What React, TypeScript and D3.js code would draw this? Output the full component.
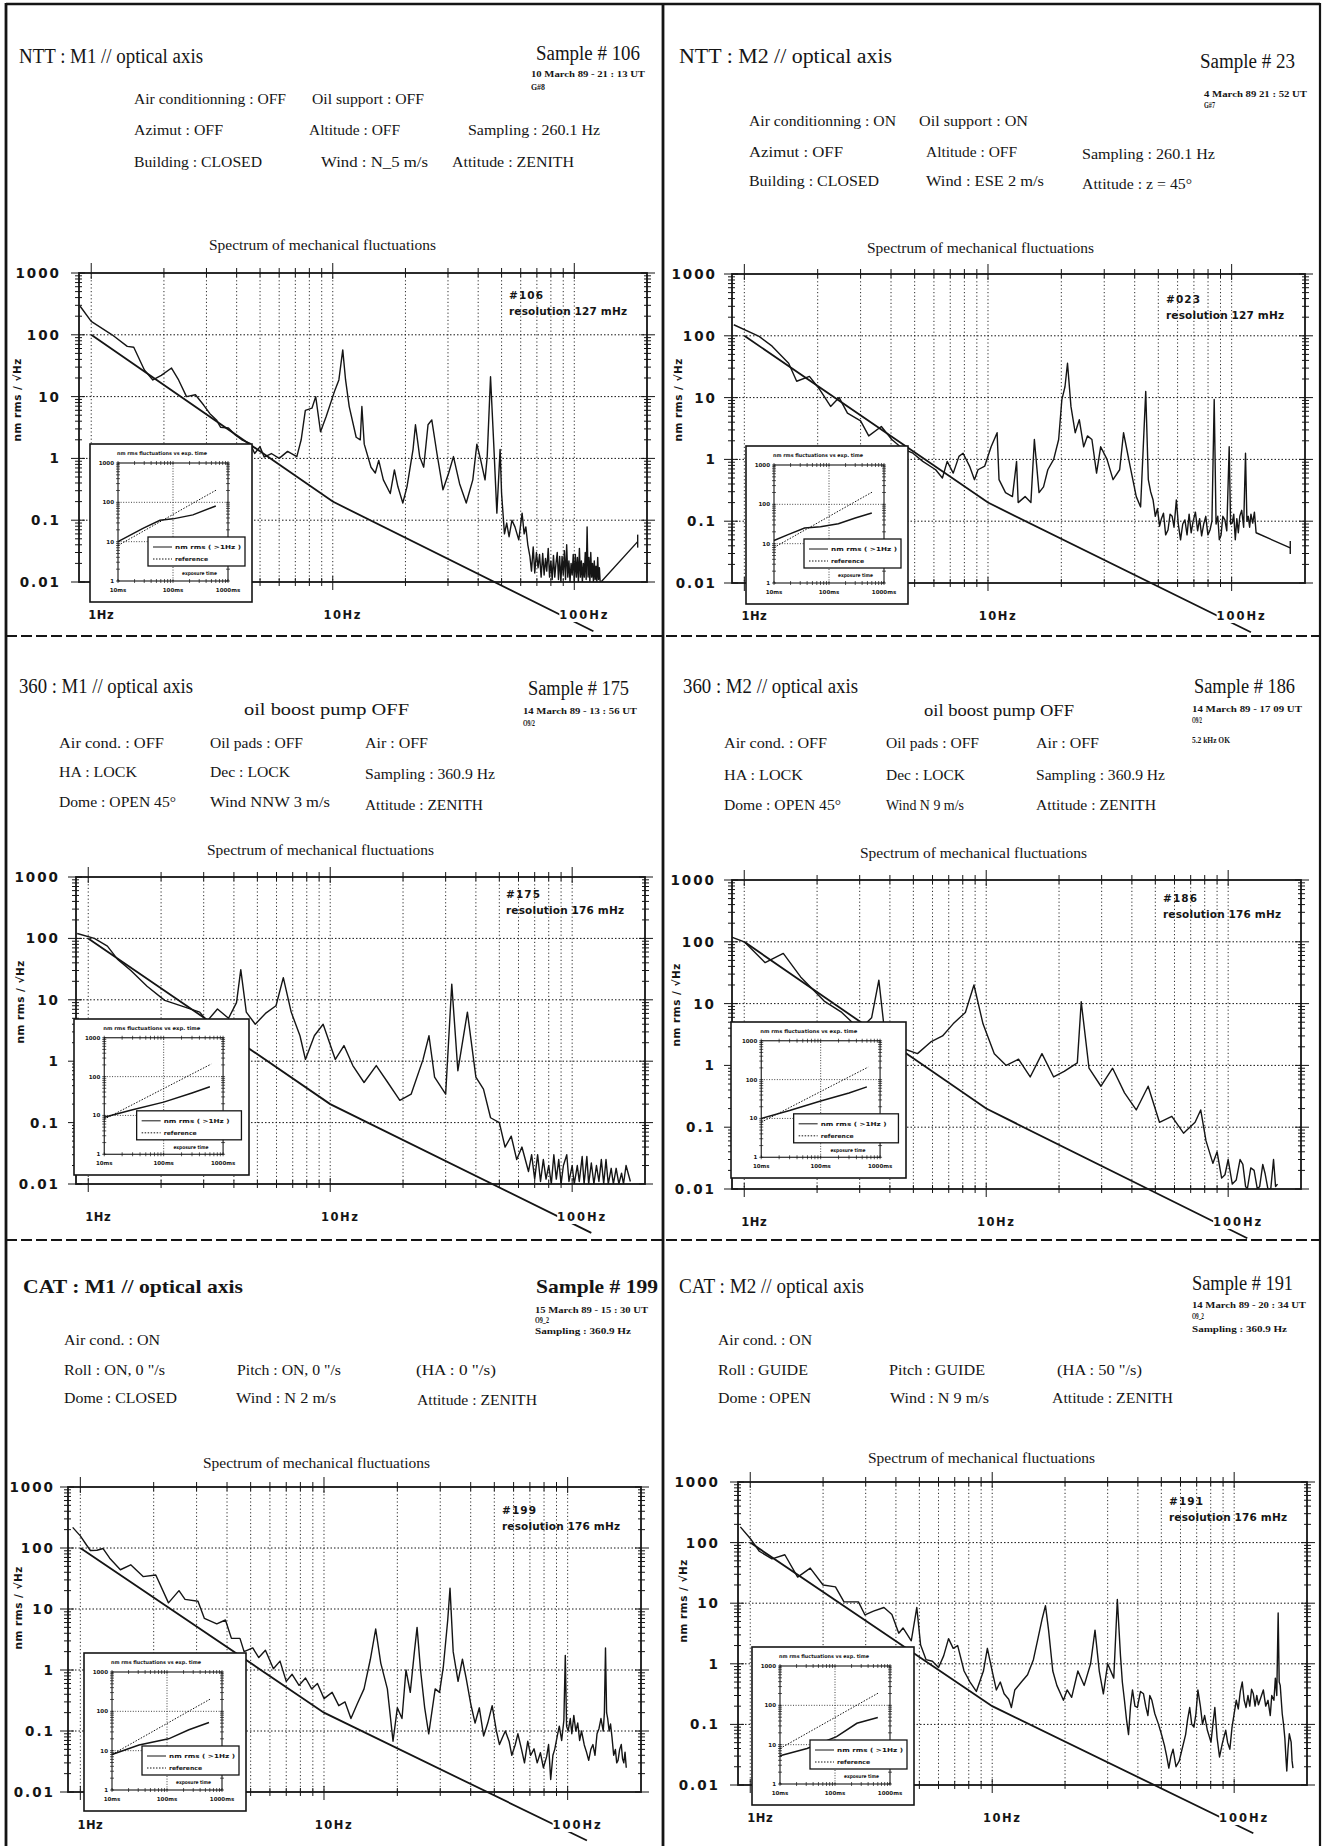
import React from 'react';
import * as d3 from 'd3';

type Pt = [number, number];

// ---- spectra: [frequency Hz, amplitude nm rms / sqrt(Hz)]
const spec106: Pt[] = [
  [0.9, 290], [1.0, 165], [1.22, 100], [1.41, 65], [1.5, 63], [1.66, 27], [1.8, 18.6], [1.95, 22], [2.15, 29],
  [2.3, 18.6], [2.48, 10], [2.7, 10.7], [2.92, 7.3], [3.1, 5.3], [3.3, 4.2], [3.43, 3.2], [3.7, 3.1], [3.95, 2.4],
  [4.2, 2.0], [4.55, 1.75], [4.75, 1.2], [5.0, 1.55], [5.2, 1.05], [5.57, 1.2], [6.0, 1.0], [6.5, 1.3], [7.1, 1.07],
  [7.4, 2.0], [7.7, 6], [8.2, 6.5], [8.5, 10], [8.9, 2.7], [9.4, 4.8], [10.2, 12.6], [10.6, 18.6], [11, 57],
  [11.3, 18.6], [11.7, 6.9], [12.5, 2.2], [13, 2.0], [13.2, 6.9], [13.5, 1.7], [14.4, 0.72], [15, 0.58], [15.5, 0.93],
  [16.2, 0.45], [17.3, 0.27], [18, 0.65], [18.6, 0.35], [19.5, 0.19], [20.3, 0.35], [21.5, 1.4], [22, 3.5],
  [22.9, 1.07], [23.8, 0.72], [24.8, 3.5], [25.7, 4.2], [27, 1.2], [28.6, 0.31], [30.2, 0.58], [31.6, 1.07],
  [33.5, 0.39], [35.7, 0.19], [38, 0.45], [39.5, 1.7], [41, 0.93], [42.7, 0.45], [43.6, 1.07], [45, 21], [46.4, 1.7],
  [47.8, 0.13], [49.3, 1.4], [50, 0.27], [51.4, 0.06], [52.5, 0.09], [53.7, 0.054], [55.2, 0.1], [56.8, 0.078],
  [58.9, 0.048], [60.8, 0.13], [62, 0.06], [63, 0.078], [64.2, 0.04], [65.5, 0.026], [66.5, 0.015], [67.6, 0.037],
  [68.6, 0.014], [69.7, 0.03], [70.8, 0.017], [71.8, 0.028], [72.9, 0.012], [74, 0.029], [75, 0.013], [76, 0.024],
  [76.9, 0.015], [78, 0.035], [79, 0.012], [80, 0.022], [81, 0.011], [82, 0.027], [83, 0.012], [84, 0.02], [85, 0.03],
  [86, 0.011], [87, 0.026], [88, 0.01], [89, 0.026], [90, 0.013], [91, 0.032], [92, 0.011], [93, 0.04], [94, 0.012],
  [95, 0.022], [96, 0.01], [97, 0.02], [98, 0.013], [99, 0.028], [100, 0.01], [101, 0.028], [102, 0.012], [103, 0.025],
  [104, 0.01], [105, 0.035], [106, 0.012], [107, 0.022], [108, 0.01], [109, 0.02], [110, 0.012], [111, 0.03],
  [112, 0.011], [113, 0.078], [114, 0.012], [115, 0.025], [116, 0.01], [117, 0.03], [118, 0.012], [119, 0.02],
  [120, 0.01], [121, 0.022], [122, 0.011], [123, 0.018], [124, 0.01], [125, 0.025], [126, 0.011], [127, 0.017],
  [128, 0.01], [129, 0.01], [183, 0.045],
];

const spec023: Pt[] = [
  [0.905, 151], [1.15, 98], [1.3, 68], [1.52, 36], [1.64, 18.4], [1.85, 22], [2.04, 13.5], [2.26, 7.2], [2.45, 10],
  [2.65, 5.6], [3.0, 4.2], [3.24, 2.4], [3.65, 3.4], [4.03, 2.1], [4.45, 1.5], [4.92, 1.26], [5.4, 0.93], [6.1, 0.68],
  [6.5, 0.5], [6.8, 0.93], [7.2, 0.6], [7.6, 1.12], [7.9, 1.26], [8.4, 0.78], [8.8, 0.47], [9.1, 0.68], [9.7, 0.78],
  [10.3, 1.6], [10.9, 2.7], [11.1, 0.47], [11.8, 0.29], [12.6, 0.25], [13.1, 0.93], [13.3, 0.2], [14.2, 0.25],
  [15, 0.2], [15.5, 2.1], [16.2, 0.29], [16.9, 0.36], [17.6, 0.68], [18.6, 1.0], [19.5, 2.1], [20.1, 9.3], [20.7, 15],
  [21.2, 36], [21.9, 7.2], [22.8, 2.7], [23.7, 4.4], [24.7, 1.6], [25.6, 2.4], [26.7, 2.1], [27.9, 0.6], [29, 1.6],
  [30.8, 1.0], [32.6, 0.47], [34.7, 0.68], [36, 2.7], [38.3, 0.78], [40.6, 0.25], [42.3, 0.17], [44.4, 12.6],
  [45.5, 0.47], [46.5, 0.3], [47.6, 0.22], [48.6, 0.12], [49.6, 0.16], [50.6, 0.083], [51.5, 0.11], [52.5, 0.135],
  [53.6, 0.06], [54.8, 0.072], [55.9, 0.13], [57, 0.12], [58, 0.08], [59.3, 0.22], [60.4, 0.09], [61.7, 0.05],
  [63, 0.09], [64.3, 0.105], [65.6, 0.06], [66.9, 0.13], [68.2, 0.065], [69.5, 0.1], [71, 0.14], [72.5, 0.07],
  [73.9, 0.11], [75.3, 0.058], [76.8, 0.09], [78.3, 0.12], [79.9, 0.06], [81.5, 0.072], [83, 0.1], [84.8, 9.3],
  [86.3, 0.09], [87.7, 0.12], [89, 0.05], [90.5, 0.06], [92, 0.12], [93.8, 0.105], [95.5, 0.07], [97.7, 1.6],
  [99, 0.09], [100.5, 0.093], [102, 0.13], [103.5, 0.05], [105, 0.11], [106.5, 0.065], [108, 0.12], [110, 0.15],
  [112, 0.08], [114, 1.26], [115.5, 0.1], [117, 0.12], [118.5, 0.08], [120, 0.13], [122, 0.093], [124, 0.14],
  [126, 0.065], [174, 0.037],
];

const spec175: Pt[] = [
  [0.9, 120], [1.06, 100], [1.2, 75], [1.32, 46], [1.5, 30], [1.75, 16.6], [2.07, 9.8], [2.44, 7.9], [2.89, 6.3],
  [3.1, 4.5], [3.42, 7.1], [3.8, 5], [4.1, 9], [4.27, 31], [4.5, 6.3], [4.9, 4], [5.4, 6], [5.97, 8], [6.4, 23],
  [6.9, 6.3], [7.5, 2.6], [7.9, 1.07], [8.6, 2.6], [9.35, 4], [10.5, 1.07], [11.4, 1.8], [12.4, 0.85], [13.8, 0.45],
  [15.5, 0.85], [17.3, 0.45], [19.4, 0.23], [21.6, 0.29], [24.2, 1.07], [25.6, 2.6], [27, 0.55], [30, 0.29],
  [31.8, 18], [33.7, 0.7], [36.9, 6.3], [40, 0.55], [43, 0.35], [46, 0.12], [50, 0.1], [52.8, 0.04], [56, 0.06],
  [59, 0.025], [62, 0.04], [66, 0.016], [68, 0.03], [70, 0.012], [72, 0.03], [74, 0.011], [76, 0.025], [78, 0.012],
  [80, 0.02], [82, 0.01], [84, 0.03], [86, 0.012], [88, 0.025], [90, 0.01], [92, 0.02], [95, 0.03], [97, 0.011],
  [100, 0.02], [102, 0.01], [105, 0.02], [107, 0.011], [110, 0.028], [112, 0.01], [115, 0.028], [117, 0.01],
  [120, 0.022], [123, 0.01], [126, 0.02], [129, 0.011], [132, 0.025], [135, 0.01], [138, 0.025], [141, 0.01],
  [145, 0.018], [148, 0.01], [152, 0.018], [156, 0.01], [160, 0.015], [163, 0.01], [167, 0.02], [174, 0.011],
];

const spec186: Pt[] = [
  [0.88, 120], [1.0, 100], [1.22, 46], [1.45, 65], [1.71, 27], [2.14, 11], [2.53, 7.2], [3.0, 3.8], [3.36, 5.9],
  [3.6, 24], [3.78, 4.3], [4.4, 1.95], [5.2, 1.55], [5.9, 2.4], [6.6, 3], [7.3, 4.7], [8.2, 7.2], [8.9, 20],
  [9.7, 4.7], [10.8, 1.55], [12.1, 1.0], [13.6, 1.26], [15.2, 0.65], [17, 1.55], [19, 0.65], [21, 0.8], [23.8, 1.1],
  [24.7, 10.7], [26.6, 0.9], [29.8, 0.46], [33.3, 0.9], [37.3, 0.36], [41.7, 0.19], [46.7, 0.46], [52, 0.12],
  [58.5, 0.15], [65.4, 0.08], [73, 0.12], [77, 0.19], [81, 0.06], [86.5, 0.026], [90, 0.04], [94, 0.015], [97, 0.017],
  [100, 0.03], [104, 0.012], [108, 0.014], [112, 0.03], [115, 0.025], [118, 0.011], [120, 0.01], [124, 0.022],
  [128, 0.02], [132, 0.01], [135, 0.011], [139, 0.025], [142, 0.018], [146, 0.01], [150, 0.01], [154, 0.03],
  [157, 0.011], [160, 0.012],
];

const spec199: Pt[] = [
  [0.93, 218], [1.0, 158], [1.06, 112], [1.1, 91], [1.17, 92], [1.24, 98], [1.32, 68], [1.46, 44], [1.61, 53],
  [1.81, 34], [2.04, 36], [2.3, 12.6], [2.54, 20], [2.69, 14.4], [3.04, 13.4], [3.23, 7], [3.63, 5.7], [3.94, 6.6],
  [4.17, 3.3], [4.52, 3.3], [4.7, 2], [5.1, 2.3], [5.4, 1.6], [5.75, 2.1], [6.2, 1.05], [6.6, 1.4], [7, 0.65],
  [7.4, 0.85], [7.9, 0.56], [8.4, 0.74], [8.9, 0.49], [9.4, 0.6], [10, 0.34], [10.8, 0.43], [11.5, 0.26], [12.2, 0.3],
  [12.9, 0.16], [13.7, 0.28], [14.6, 0.49], [15.5, 1.5], [16.3, 4.7], [17.1, 1.3], [18.2, 0.49], [19.2, 0.068],
  [20, 0.24], [20.9, 0.16], [21.7, 1], [22.6, 0.43], [23.5, 2], [24.1, 5], [24.9, 1], [25.9, 0.24], [26.9, 0.09],
  [28.6, 0.49], [29.8, 0.43], [30.9, 1.15], [32.2, 6.6], [32.9, 22], [33.9, 2], [35.5, 0.65], [37, 1.5], [38.3, 0.74],
  [40, 0.28], [41.7, 0.135], [43.4, 0.24], [45.2, 0.083], [47, 0.135], [49, 0.26], [51, 0.1], [52.5, 0.06],
  [54, 0.078], [55.5, 0.1], [57.5, 0.068], [59, 0.04], [60.9, 0.059], [62.5, 0.09], [64.6, 0.051], [66.5, 0.03],
  [68.6, 0.068], [70.5, 0.04], [72.8, 0.051], [75, 0.03], [77.3, 0.044], [79.5, 0.025], [82, 0.038], [83.5, 0.06],
  [85.2, 0.016], [87, 0.04], [88.5, 0.05], [90.5, 0.08], [92.4, 0.12], [94.5, 0.07], [96.5, 0.15], [97.8, 1.74],
  [99, 0.12], [100.5, 0.1], [102.5, 0.16], [104, 0.09], [106, 0.18], [108, 0.1], [110, 0.135], [112, 0.07],
  [114, 0.1], [117, 0.059], [119.5, 0.045], [122, 0.033], [124.5, 0.05], [127, 0.06], [129.5, 0.04], [132, 0.09],
  [134.5, 0.11], [137, 0.16], [140, 0.1], [141.5, 0.2], [143, 2.3], [144.5, 0.2], [146, 0.16], [148, 0.1],
  [150, 0.13], [152, 0.08], [154.5, 0.04], [157, 0.05], [159, 0.03], [161, 0.033], [163.5, 0.05], [166, 0.06],
  [168, 0.035], [170, 0.03], [172, 0.045], [174, 0.025],
];

const spec191: Pt[] = [
  [0.91, 182], [1.0, 117], [1.09, 72], [1.23, 54], [1.39, 63], [1.57, 27], [1.77, 38], [2.0, 20], [2.25, 18.6],
  [2.44, 10.5], [2.8, 10.5], [2.98, 6.4], [3.23, 7.4], [3.57, 8.5], [3.85, 6.5], [4.11, 3.2], [4.28, 3.9],
  [4.63, 2.4], [4.88, 8.5], [5.06, 2.04], [5.33, 1.17], [5.66, 1.1], [6.0, 0.87], [6.3, 1.35], [6.6, 2.6], [6.9, 1.8],
  [7.2, 2.0], [7.65, 0.76], [8.1, 0.5], [8.6, 0.35], [9.2, 0.76], [9.55, 1.8], [10, 0.76], [10.4, 0.37], [10.8, 0.5],
  [11.2, 0.32], [11.7, 0.26], [12, 0.19], [12.4, 0.37], [13.2, 0.5], [14, 0.66], [14.8, 1.17], [15.5, 2.75],
  [16.1, 5.6], [16.6, 9.1], [17.1, 3.6], [17.8, 0.76], [18.5, 0.44], [19.7, 0.25], [20.4, 0.37], [21.3, 0.28],
  [22.6, 0.76], [24, 0.44], [25.5, 1.0], [26.6, 3.6], [27.7, 0.76], [28.8, 0.32], [30, 1.0], [31.8, 0.58],
  [32.9, 11.5], [33.9, 1.35], [34.5, 0.5], [35.2, 0.25], [35.9, 0.12], [36.6, 0.068], [37.3, 0.2], [38, 0.37],
  [38.9, 0.2], [39.8, 0.19], [41, 0.35], [42.2, 0.32], [43.1, 0.2], [44, 0.14], [44.8, 0.3], [45.7, 0.25], [47, 0.15],
  [48.5, 0.105], [50, 0.07], [51.5, 0.045], [52.6, 0.03], [53.7, 0.019], [54.8, 0.03], [55.9, 0.039], [57.5, 0.02],
  [59.3, 0.025], [61, 0.04], [63, 0.068], [64.2, 0.12], [65.5, 0.19], [66.8, 0.1], [68.2, 0.09], [69.5, 0.15],
  [70.8, 0.37], [72.5, 0.2], [74, 0.1], [75.5, 0.14], [77.5, 0.08], [80.2, 0.051], [81.7, 0.1], [83.2, 0.19],
  [85, 0.06], [87, 0.029], [89.5, 0.05], [92.3, 0.08], [94, 0.05], [96, 0.039], [98, 0.09], [100, 0.15], [102, 0.25],
  [104, 0.18], [106, 0.35], [108, 0.5], [110, 0.25], [112, 0.19], [114, 0.3], [116, 0.2], [118, 0.38], [120, 0.32],
  [122, 0.2], [124, 0.3], [126, 0.21], [129, 0.28], [132, 0.37], [135, 0.2], [138, 0.25], [141, 0.14], [143, 0.3],
  [146, 0.25], [148, 0.58], [150, 0.3], [152, 6.9], [153.5, 0.5], [155, 0.44], [158, 0.15], [160, 0.1], [162, 0.059],
  [163.5, 0.03], [165, 0.017], [167, 0.04], [169, 0.07], [172, 0.051], [173.5, 0.025], [175, 0.019],
];

// reference slope drawn on every spectrum
const refSpec: Pt[] = [[1, 100], [10, 0.2], [120, 0.0016]];

// insets: rms vs exposure time [ms, nm]
const rms106: Pt[] = [[10, 10], [29, 22], [58, 35], [100, 38], [230, 48], [600, 81]];
const rms023: Pt[] = [[10, 12], [18, 17], [36, 25], [70, 27], [148, 32], [300, 45], [600, 60]];
const rms175: Pt[] = [[10, 9], [30, 14], [100, 22], [300, 38], [600, 55]];
const rms186: Pt[] = [[10, 10], [30, 16], [100, 28], [300, 45], [600, 65]];
const rms199: Pt[] = [[10, 8], [31, 14], [107, 20], [250, 34], [580, 52]];
const rms191: Pt[] = [[10, 5.2], [31, 8], [107, 16], [250, 35], [600, 49]];
const rmsRef: Pt[] = [[10, 8], [630, 210]];

// ---- header texts
const head106 = ['NTT : M1 // optical axis', 'Sample # 106', '10 March 89 - 21 : 13 UT', 'G#8', 'Air conditionning : OFF',
  'Oil support : OFF', 'Azimut : OFF', 'Altitude : OFF', 'Sampling : 260.1 Hz', 'Building : CLOSED', 'Wind  :  N_5 m/s',
  'Attitude : ZENITH'];
const head023 = ['NTT :  M2  //  optical axis', 'Sample # 23', '4 March 89    21 : 52 UT', 'G#7', 'Air conditionning : ON',
  'Oil support : ON', 'Azimut :  OFF', 'Altitude : OFF', 'Sampling : 260.1 Hz', 'Building : CLOSED', 'Wind  :  ESE 2 m/s',
  'Attitude : z = 45°'];
const head175 = ['360 : M1 // optical axis', 'Sample # 175', 'oil boost pump OFF', '14 March 89 - 13 : 56 UT', 'O9/2',
  'Air cond. : OFF', 'Oil pads : OFF', 'Air : OFF', 'HA : LOCK', 'Dec : LOCK', 'Sampling : 360.9 Hz', 'Dome : OPEN 45°',
  'Wind   NNW 3 m/s', 'Attitude : ZENITH'];
const head186 = ['360 : M2 // optical axis', 'Sample # 186', 'oil boost pump OFF', '14 March 89 - 17  09 UT', 'O9/2',
  '5.2 kHz OK', 'Air cond. : OFF', 'Oil pads : OFF', 'Air : OFF', 'HA : LOCK', 'Dec : LOCK', 'Sampling : 360.9 Hz',
  'Dome : OPEN 45°', 'Wind  N 9 m/s', 'Attitude : ZENITH'];
const head199 = ['CAT : M1 // optical axis', 'Sample # 199', '15 March 89 - 15 : 30 UT', 'O9_2', 'Sampling : 360.9 Hz',
  'Air cond. : ON', 'Roll : ON, 0 "/s', 'Pitch : ON, 0 "/s', '(HA  : 0 "/s)', 'Dome : CLOSED', 'Wind  : N 2 m/s',
  'Attitude : ZENITH'];
const head191 = ['CAT : M2 // optical axis', 'Sample # 191', '14 March 89 - 20 : 34 UT', 'O9_2', 'Sampling : 360.9 Hz',
  'Air cond. : ON', 'Roll : GUIDE', 'Pitch : GUIDE', '(HA  : 50 "/s)', 'Dome : OPEN', 'Wind  : N 9 m/s',
  'Attitude : ZENITH'];

const tags = ['#106', '#023', '#175', '#186', '#199', '#191'];
const resolutions = ['resolution  127  mHz', 'resolution  127  mHz', 'resolution  176  mHz', 'resolution  176  mHz',
  'resolution  176  mHz', 'resolution  176  mHz'];

const plotTitle = 'Spectrum of mechanical fluctuations';
const yAxisTitle = 'nm  rms  /  √Hz';
const yTickValues = [1000, 100, 10, 1, 0.1, 0.01];
const yTickLabels = ['1000', '100', '10', '1', '0.1', '0.01'];
const xLabelFreqs = [1, 10, 100];
const xLabels = ['1Hz', '10Hz', '100Hz'];
const insetTitle = 'nm rms fluctuations vs exp. time';
const insetYTicks = [1000, 100, 10, 1];
const insetXTicks = [10, 100, 1000];
const insetXLabels = ['10ms', '100ms', '1000ms'];
const legendLabels = ['nm rms ( >1Hz )', 'reference'];
const insetAxisTitle = 'exposure time';

// ---- layout (positions only)
type Lay = [number, number, number, string];
const lay106: Lay[] = [[19, 63, 184, 'title'], [536, 60, 104, 'title'], [531, 77, 114, 'small'], [531, 90, 14, 'small'],
  [134, 104, 152, 'body'], [312, 104, 112, 'body'], [134, 135, 89, 'body'], [309, 135, 91, 'body'],
  [468, 135, 132, 'body'], [134, 167, 128, 'body'], [321, 167, 107, 'body'], [452, 167, 122, 'body']];
const lay023: Lay[] = [[679, 63, 213, 'title'], [1200, 68, 95, 'title'], [1204, 97, 103, 'small'], [1204, 108, 11, 'small'],
  [749, 126, 147, 'body'], [919, 126, 109, 'body'], [749, 157, 94, 'body'], [926, 157, 91, 'body'],
  [1082, 159, 133, 'body'], [749, 186, 130, 'body'], [926, 186, 118, 'body'], [1082, 189, 110, 'body']];
const lay175: Lay[] = [[19, 693, 174, 'title'], [528, 695, 101, 'title'], [244, 715, 165, 'pump'], [523, 714, 114, 'small'],
  [523, 726, 12, 'small'], [59, 748, 105, 'body'], [210, 748, 93, 'body'], [365, 748, 63, 'body'], [59, 777, 78, 'body'],
  [210, 777, 80, 'body'], [365, 779, 130, 'body'], [59, 807, 117, 'body'], [210, 807, 120, 'body'], [365, 810, 118, 'body']];
const lay186: Lay[] = [[683, 693, 175, 'title'], [1194, 693, 101, 'title'], [924, 716, 150, 'pump'],
  [1192, 712, 110, 'small'], [1192, 723, 10, 'small'], [1192, 743, 38, 'small'], [724, 748, 103, 'body'],
  [886, 748, 93, 'body'], [1036, 748, 63, 'body'], [724, 780, 79, 'body'], [886, 780, 79, 'body'],
  [1036, 780, 129, 'body'], [724, 810, 117, 'body'], [886, 810, 78, 'body'], [1036, 810, 120, 'body']];
const lay199: Lay[] = [[23, 1293, 220, 'titleB'], [536, 1293, 122, 'titleB'], [535, 1313, 113, 'small'],
  [535, 1323, 14, 'small'], [535, 1334, 96, 'small'], [64, 1345, 96, 'body'], [64, 1375, 101, 'body'],
  [237, 1375, 104, 'body'], [416, 1375, 80, 'body'], [64, 1403, 113, 'body'], [236, 1403, 100, 'body'],
  [417, 1405, 120, 'body']];
const lay191: Lay[] = [[679, 1293, 185, 'title'], [1192, 1290, 101, 'title'], [1192, 1308, 114, 'small'],
  [1192, 1319, 12, 'small'], [1192, 1332, 95, 'small'], [718, 1345, 94, 'body'], [718, 1375, 90, 'body'],
  [889, 1375, 96, 'body'], [1057, 1375, 85, 'body'], [718, 1403, 93, 'body'], [890, 1403, 99, 'body'],
  [1052, 1403, 121, 'body']];

const SERIF = '"Liberation Serif", "Times New Roman", serif';
const SANS = '"DejaVu Sans", Verdana, sans-serif';
const INK = '#151515';

const styles: Record<string, { size: number; weight: string; family: string }> = {
  title: { size: 20, weight: 'normal', family: SERIF },
  titleB: { size: 19, weight: 'bold', family: SERIF },
  body: { size: 14.5, weight: 'normal', family: SERIF },
  pump: { size: 17, weight: 'normal', family: SERIF },
  small: { size: 8, weight: 'bold', family: SERIF },
};

const panels = [
  { head: head106, lay: lay106, spec: spec106, rms: rms106, frame: [79, 647, 273, 582], titleAt: [209, 250],
    tagAt: [509, 299], inset: [90, 444, 162, 158], endTick: true, yLab: [-58, 127], gap: 20 },
  { head: head023, lay: lay023, spec: spec023, rms: rms023, frame: [732, 1305, 274, 583], titleAt: [867, 253],
    tagAt: [1166, 303], inset: [746, 446, 162, 158], endTick: true, yLab: [-50, 126], gap: 17 },
  { head: head175, lay: lay175, spec: spec175, rms: rms175, frame: [76, 645, 877, 1184], titleAt: [207, 855],
    tagAt: [506, 898], inset: [74, 1019, 175, 156], endTick: false, yLab: [-52, 125], gap: 18 },
  { head: head186, lay: lay186, spec: spec186, rms: rms186, frame: [732, 1301, 880, 1189], titleAt: [860, 858],
    tagAt: [1163, 902], inset: [731, 1022, 175, 156], endTick: false, yLab: [-52, 125], gap: 18 },
  { head: head199, lay: lay199, spec: spec199, rms: rms199, frame: [68, 641, 1487, 1792], titleAt: [203, 1468],
    tagAt: [502, 1514], inset: [84, 1653, 162, 158], endTick: false, yLab: [-46, 121], gap: 15 },
  { head: head191, lay: lay191, spec: spec191, rms: rms191, frame: [738, 1307, 1482, 1785], titleAt: [868, 1463],
    tagAt: [1169, 1505], inset: [752, 1647, 162, 158], endTick: false, yLab: [-51, 119], gap: 20 },
];

function Inset({ at, rms }: { at: number[]; rms: Pt[] }) {
  const [ix, iy, w, h] = at;
  const k = w / 162;
  const kh = h / 158;
  const x = d3.scaleLog().domain([10, 1000]).range([ix + 28 * k, ix + 138 * k]);
  const y = d3.scaleLog().domain([1, 1000]).range([iy + 137 * kh, iy + 19 * kh]);
  const line = d3.line<Pt>().x(d => x(d[0])).y(d => y(d[1]));
  const yMinor = y.ticks();
  const xMinor = x.ticks();
  const lx = ix + 58 * k;
  const ly = iy + 93 * kh;
  return (
    <g>
      <rect x={ix} y={iy} width={w} height={h} fill="#fff" stroke={INK} strokeWidth={1.6} />
      <text x={ix + 27 * k} y={iy + 11 * kh} fontSize={5} fontWeight="bold" fontFamily={SANS} textLength={90 * k}
        lengthAdjust="spacingAndGlyphs" fill={INK}>{insetTitle}</text>
      {[10, 100].map(v => (
        <line key={'h' + v} x1={x.range()[0]} x2={x.range()[1]} y1={y(v)} y2={y(v)} stroke={INK}
          strokeWidth={0.8} strokeDasharray="1 1.6" />
      ))}
      <line x1={x(100)} x2={x(100)} y1={y(1)} y2={y(1000)} stroke={INK} strokeWidth={0.8} strokeDasharray="1 1.6" />
      {yMinor.map((v, i) => (
        <g key={'ym' + i}>
          <line x1={x(10) - 2} x2={x(10) + 2} y1={y(v)} y2={y(v)} stroke={INK} strokeWidth={0.7} />
          <line x1={x(1000) - 2} x2={x(1000) + 2} y1={y(v)} y2={y(v)} stroke={INK} strokeWidth={0.7} />
        </g>
      ))}
      {xMinor.map((v, i) => (
        <g key={'xm' + i}>
          <line x1={x(v)} x2={x(v)} y1={y(1) - 2} y2={y(1) + 2} stroke={INK} strokeWidth={0.7} />
          <line x1={x(v)} x2={x(v)} y1={y(1000) - 2} y2={y(1000) + 2} stroke={INK} strokeWidth={0.7} />
        </g>
      ))}
      <rect x={x(10)} y={y(1000)} width={x(1000) - x(10)} height={y(1) - y(1000)} fill="none" stroke={INK}
        strokeWidth={1.1} />
      {insetYTicks.map(v => (
        <text key={'yl' + v} x={x(10) - 4} y={y(v) + 2} fontSize={5.5} fontWeight="bold" fontFamily={SANS}
          textAnchor="end" fill={INK}>{String(v)}</text>
      ))}
      {insetXTicks.map((v, i) => (
        <text key={'xl' + v} x={x(v)} y={y(1) + 11} fontSize={5.5} fontWeight="bold" fontFamily={SANS}
          textAnchor="middle" fill={INK}>{insetXLabels[i]}</text>
      ))}
      <path d={line(rmsRef) || ''} fill="none" stroke={INK} strokeWidth={1} strokeDasharray="1.5 1.5" />
      <path d={line(rms) || ''} fill="none" stroke={INK} strokeWidth={1.5} />
      <rect x={lx} y={ly} width={97 * k} height={29} fill="#fff" stroke={INK} strokeWidth={1.3} />
      <line x1={lx + 5} x2={lx + 24} y1={ly + 10} y2={ly + 10} stroke={INK} strokeWidth={1} />
      <line x1={lx + 5} x2={lx + 24} y1={ly + 22} y2={ly + 22} stroke={INK} strokeWidth={1} strokeDasharray="1.5 1.5" />
      <text x={lx + 27} y={ly + 12} fontSize={5.5} fontWeight="bold" fontFamily={SANS} textLength={66}
        lengthAdjust="spacingAndGlyphs" fill={INK}>{legendLabels[0]}</text>
      <text x={lx + 27} y={ly + 24} fontSize={5.5} fontWeight="bold" fontFamily={SANS} textLength={33}
        lengthAdjust="spacingAndGlyphs" fill={INK}>{legendLabels[1]}</text>
      <text x={lx + 34 * k} y={ly + 38} fontSize={5} fontWeight="bold" fontFamily={SANS} textLength={35}
        lengthAdjust="spacingAndGlyphs" fill={INK}>{insetAxisTitle}</text>
    </g>
  );
}

function Panel({ p, idx }: { p: any; idx: number }) {
  const [l, r, t, b] = p.frame;
  const x = d3.scaleLog().domain([0.89, 200]).range([l, r]);
  const y = d3.scaleLog().domain([0.01, 1000]).range([b, t]);
  const line = d3.line<Pt>().x(d => x(d[0])).y(d => y(d[1]));
  const vGrid = x.ticks().filter(f => f >= 1 && f <= 100.5);
  const yMinor = y.ticks();
  const isMajor = (v: number) => Math.abs(Math.log10(v) - Math.round(Math.log10(v))) < 1e-6;
  const clipId = 'clip' + idx;
  const last = p.spec[p.spec.length - 1];
  const lab100 = x(100) + 10;

  return (
    <g>
      {p.head.map((s: string, i: number) => {
        const [tx, ty, len, st] = p.lay[i];
        const sty = styles[st];
        return (
          <text key={'h' + i} x={tx} y={ty} fontSize={sty.size} fontWeight={sty.weight} fontFamily={sty.family}
            textLength={len} lengthAdjust="spacingAndGlyphs" fill={INK}>{s}</text>
        );
      })}
      <text x={p.titleAt[0]} y={p.titleAt[1]} fontSize={14} fontFamily={SERIF} textLength={227}
        lengthAdjust="spacingAndGlyphs" fill={INK}>{plotTitle}</text>

      <defs>
        <clipPath id={clipId}><rect x={l} y={t} width={r - l} height={b - t} /></clipPath>
      </defs>

      {/* dotted grid */}
      {vGrid.map((f, i) => (
        <line key={'v' + i} x1={x(f)} x2={x(f)} y1={t} y2={b} stroke={INK} strokeWidth={0.9} strokeDasharray="1.2 2.4" />
      ))}
      {[100, 10, 1, 0.1].map(v => (
        <line key={'g' + v} x1={l} x2={r} y1={y(v)} y2={y(v)} stroke={INK} strokeWidth={1} strokeDasharray="1.5 2" />
      ))}

      {/* ticks on top / bottom */}
      {vGrid.map((f, i) => {
        const major = isMajor(f);
        return (
          <g key={'tk' + i}>
            <line x1={x(f)} x2={x(f)} y1={t - (major ? 10 : 5)} y2={t + (major ? 6 : 4)} stroke={INK} strokeWidth={1} />
            <line x1={x(f)} x2={x(f)} y1={b - (major ? 6 : 4)} y2={b + (major ? 8 : 4)} stroke={INK} strokeWidth={1} />
          </g>
        );
      })}
      {/* ticks on left / right */}
      {yMinor.map((v, i) => {
        const major = isMajor(v);
        const a = major ? 8 : 4;
        const c = major ? 6 : 3;
        return (
          <g key={'ty' + i}>
            <line x1={l - a} x2={l + c} y1={y(v)} y2={y(v)} stroke={INK} strokeWidth={1} />
            <line x1={r - c} x2={r + a} y1={y(v)} y2={y(v)} stroke={INK} strokeWidth={1} />
          </g>
        );
      })}
      <rect x={l} y={t} width={r - l} height={b - t} fill="none" stroke={INK} strokeWidth={1.8} />

      {/* y tick labels */}
      {yTickValues.map((v, i) => (
        <text key={'yl' + i} x={l - p.gap + 2} y={y(v) + 5} fontSize={13.5} fontWeight="bold" fontFamily={SANS}
          textAnchor="end" letterSpacing={2} fill={INK}>{yTickLabels[i]}</text>
      ))}
      <text transform={`translate(${l + p.yLab[0]},${t + p.yLab[1]}) rotate(-90)`} fontSize={10.5} fontWeight="bold"
        fontFamily={SANS} textAnchor="middle" textLength={83} fill={INK}>{yAxisTitle}</text>

      {/* reference slope, runs past the axis */}
      <path d={line(refSpec) || ''} fill="none" stroke={INK} strokeWidth={1.8} />

      {/* x labels */}
      <rect x={lab100 - 25} y={b + 25} width={50} height={15} fill="#fff" />
      {xLabelFreqs.map((f, i) => (
        <text key={'xl' + i} x={x(f) + 10} y={b + 37} fontSize={11.5} fontWeight="bold" fontFamily={SANS}
          textAnchor="middle" letterSpacing={[0.5, 1.5, 2][i]} fill={INK}>{xLabels[i]}</text>
      ))}

      {/* measured spectrum */}
      <path d={line(p.spec) || ''} fill="none" stroke={INK} strokeWidth={1.4} strokeLinejoin="round"
        clipPath={`url(#${clipId})`} />
      {p.endTick && (
        <line x1={x(last[0])} x2={x(last[0])} y1={y(last[1]) - 7} y2={y(last[1]) + 6} stroke={INK} strokeWidth={1.4} />
      )}

      <text x={p.tagAt[0]} y={p.tagAt[1]} fontSize={10.5} fontWeight="bold" fontFamily={SANS} textLength={34}
        fill={INK}>{tags[idx]}</text>
      <text x={p.tagAt[0]} y={p.tagAt[1] + 16} fontSize={10.5} fontWeight="bold" fontFamily={SANS} textLength={118}
        fill={INK}>{resolutions[idx]}</text>

      <Inset at={p.inset} rms={p.rms} />
    </g>
  );
}

export default function App() {
  const W = 1324, H = 1846;
  return (
    <div style={{ position: 'absolute', left: 0, top: 0 }}>
      <svg width={W} height={H} viewBox={`0 0 ${W} ${H}`} style={{ display: 'block', background: '#fff' }}>
        <rect x={0} y={0} width={W} height={H} fill="#fff" />
        {/* page frame */}
        <line x1={6} x2={1320} y1={4} y2={4} stroke={INK} strokeWidth={2.5} />
        <line x1={6} x2={6} y1={3} y2={H} stroke={INK} strokeWidth={2.8} />
        <line x1={663} x2={663} y1={3} y2={H} stroke={INK} strokeWidth={2.8} />
        <line x1={1320} x2={1320} y1={3} y2={H} stroke={INK} strokeWidth={2.2} />
        {[636, 1240].map(yy => (
          <line key={yy} x1={6} x2={1320} y1={yy} y2={yy} stroke={INK} strokeWidth={2} strokeDasharray="11 4" />
        ))}
        {panels.map((p, i) => <Panel key={i} p={p} idx={i} />)}
      </svg>
    </div>
  );
}
